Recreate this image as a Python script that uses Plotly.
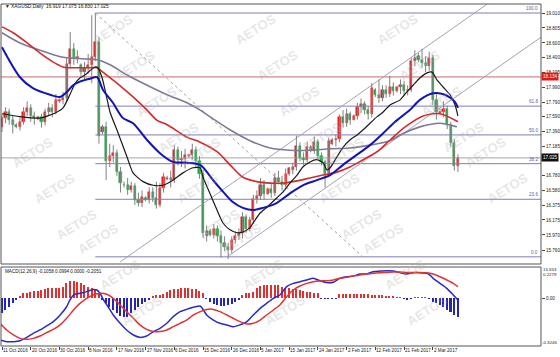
import plotly.graph_objects as go

# ---------------- data ----------------
date_labels = ["11 Oct 2016", "20 Oct 2016", "30 Oct 2016", "8 Nov 2016", "17 Nov 2016",
               "27 Nov 2016", "6 Dec 2016", "15 Dec 2016", "26 Dec 2016", "5 Jan 2017",
               "15 Jan 2017", "24 Jan 2017", "2 Feb 2017", "12 Feb 2017", "21 Feb 2017",
               "2 Mar 2017"]
date_label_bars = [0, 8, 16, 24, 32, 40, 48, 56, 64, 72, 80, 88, 96, 104, 112, 120]

price_ticks = [19.010, 18.805, 18.600, 18.400, 18.195, 17.990, 17.790, 17.590, 17.390,
               17.185, 16.780, 16.580, 16.375, 16.175, 15.970, 15.760]

opens = [17.45, 17.57, 17.65, 17.54, 17.47, 17.45, 17.52, 17.65, 17.71, 17.60,
         17.56, 17.58, 17.52, 17.65, 17.71, 17.65, 17.80, 17.82, 17.85, 18.31,
         18.52, 18.39, 18.30, 18.20, 18.26, 18.30, 18.41, 18.61, 17.38, 17.45,
         16.98, 17.05, 17.09, 16.83, 16.66, 16.65, 16.59, 16.64, 16.45, 16.41,
         16.47, 16.45, 16.56, 16.48, 16.38, 16.61, 16.74, 16.75, 16.72, 17.13,
         16.99, 17.01, 17.05, 17.06, 17.13, 16.98, 16.80, 15.96, 16.02, 15.97,
         16.05, 15.95, 15.86, 15.80, 15.77, 15.90, 15.96, 16.00, 16.22, 16.05,
         16.18, 16.46, 16.50, 16.65, 16.53, 16.60, 16.55, 16.75, 16.70, 16.66,
         16.80, 16.86, 16.90, 17.19, 17.03, 16.99, 17.18, 17.12, 17.24, 17.05,
         16.97, 16.80, 17.22, 17.27, 17.28, 17.58, 17.50, 17.62, 17.55, 17.60,
         17.72, 17.76, 17.68, 17.62, 17.96, 17.88, 17.84, 17.96, 17.90, 18.00,
         17.94, 17.99, 18.03, 17.94, 17.96, 18.35, 18.42, 18.36, 18.33, 18.29,
         18.40, 17.82, 17.64, 17.66, 17.70, 17.47, 17.23, 16.919]
highs = [17.62, 17.72, 17.70, 17.60, 17.50, 17.58, 17.72, 17.80, 17.76, 17.66,
         17.60, 17.63, 17.70, 17.78, 17.76, 17.90, 17.84, 17.93, 18.40, 18.75,
         18.60, 18.50, 18.32, 18.34, 18.45, 18.98, 19.01, 18.68, 17.48, 17.52,
         17.22, 17.20, 17.14, 16.90, 16.70, 16.75, 16.70, 16.68, 16.55, 16.58,
         16.50, 16.62, 16.62, 16.70, 16.68, 16.82, 16.78, 16.85, 17.20, 17.18,
         17.12, 17.15, 17.08, 17.22, 17.18, 17.05, 16.86, 16.10, 16.05, 16.12,
         16.10, 16.03, 15.95, 15.86, 15.95, 16.02, 16.06, 16.28, 16.25, 16.22,
         16.52, 16.58, 16.75, 16.72, 16.62, 16.68, 16.82, 16.85, 16.78, 16.88,
         16.90, 16.96, 17.33, 17.24, 17.10, 17.25, 17.20, 17.32, 17.28, 17.10,
         17.00, 17.30, 17.30, 17.35, 17.62, 17.68, 17.70, 17.66, 17.62, 17.78,
         17.84, 17.80, 17.74, 18.05, 17.98, 18.10, 18.02, 18.02, 18.15, 18.06,
         18.00, 18.10, 18.08, 18.02, 18.40, 18.50, 18.46, 18.52, 18.42, 18.48,
         18.44, 17.90, 17.70, 17.80, 17.74, 17.52, 17.28, 17.075]
lows = [17.38, 17.50, 17.48, 17.36, 17.43, 17.40, 17.48, 17.60, 17.52, 17.48,
        17.54, 17.44, 17.47, 17.60, 17.58, 17.62, 17.78, 17.76, 17.80, 18.25,
        18.30, 18.32, 18.15, 18.08, 18.18, 18.05, 18.35, 17.22, 17.35, 16.72,
        16.90, 16.96, 16.78, 16.55, 16.62, 16.52, 16.55, 16.38, 16.36, 16.35,
        16.43, 16.40, 16.42, 16.33, 16.35, 16.55, 16.72, 16.62, 16.68, 16.92,
        16.90, 16.88, 17.03, 17.00, 16.90, 16.74, 15.93, 15.88, 15.95, 15.92,
        15.88, 15.66, 15.75, 15.64, 15.72, 15.85, 15.90, 15.92, 16.00, 16.02,
        16.12, 16.40, 16.45, 16.45, 16.52, 16.48, 16.50, 16.66, 16.58, 16.62,
        16.78, 16.80, 16.85, 16.98, 16.92, 16.96, 17.10, 17.08, 17.00, 16.92,
        16.62, 16.76, 17.20, 17.18, 17.24, 17.44, 17.45, 17.48, 17.54, 17.55,
        17.64, 17.62, 17.55, 17.58, 17.86, 17.78, 17.80, 17.85, 17.86, 17.88,
        17.92, 17.90, 17.88, 17.88, 17.93, 18.28, 18.34, 18.26, 18.20, 18.22,
        17.75, 17.55, 17.62, 17.58, 17.42, 17.18, 16.85, 16.830]
closes = [17.57, 17.65, 17.54, 17.48, 17.45, 17.52, 17.65, 17.71, 17.60, 17.57,
          17.58, 17.52, 17.65, 17.71, 17.65, 17.82, 17.82, 17.85, 18.31, 18.52,
          18.39, 18.41, 18.20, 18.26, 18.30, 18.41, 18.61, 17.33, 17.45, 16.98,
          17.05, 17.09, 16.83, 16.68, 16.65, 16.59, 16.64, 16.45, 16.41, 16.49,
          16.45, 16.56, 16.48, 16.38, 16.61, 16.76, 16.75, 16.72, 17.13, 16.99,
          17.01, 17.06, 17.06, 17.13, 16.98, 16.80, 15.99, 16.02, 15.97, 16.05,
          15.95, 15.86, 15.80, 15.77, 15.90, 15.96, 16.00, 16.22, 16.05, 16.18,
          16.46, 16.50, 16.65, 16.53, 16.60, 16.55, 16.75, 16.70, 16.66, 16.80,
          16.88, 16.90, 17.19, 17.03, 16.99, 17.18, 17.12, 17.24, 17.05, 16.97,
          16.80, 17.25, 17.27, 17.28, 17.58, 17.50, 17.62, 17.55, 17.60, 17.72,
          17.76, 17.68, 17.62, 17.98, 17.88, 17.84, 17.96, 17.90, 18.00, 17.94,
          17.99, 18.03, 17.94, 17.96, 18.35, 18.40, 18.36, 18.33, 18.29, 18.40,
          17.82, 17.65, 17.66, 17.70, 17.47, 17.23, 16.919, 17.025]

# moving averages (bar position, price)
ma_fast_bars = [0, 5, 10.6, 14.8, 17, 18.9, 20.3, 21.7, 23.1, 24.5, 25.9, 26.7, 27.9, 29, 30.1,
                32, 34.8, 36.5, 39.3, 42.1, 44.8, 47.6, 50.4, 53.2, 55.2, 56, 57.9, 59.9, 61.6,
                63.5, 65.5, 67.1, 69.1, 69.9, 71.9, 73.8, 76.6, 78.3, 80.2, 82.2, 83.8, 85.8,
                87.7, 89.4, 90.5, 91.4, 93.3, 95, 96.9, 98.9, 100.6, 102.5, 104.5, 106.1, 108.1,
                110.9, 112.8, 114.5, 116.4, 118.4, 119.8, 121.2, 122.8, 124.8, 126.2, 127]
ma_fast = [17.63, 17.59, 17.57, 17.64, 17.71, 17.89, 18.04, 18.12, 18.16, 18.22, 18.27, 18.26,
           18.12, 17.89, 17.65, 17.41, 17.04, 16.82, 16.70, 16.65, 16.65, 16.72, 16.82, 16.89,
           16.89, 16.76, 16.54, 16.31, 16.13, 16.04, 16.00, 16.01, 16.07, 16.13, 16.27, 16.35,
           16.48, 16.56, 16.68, 16.79, 16.90, 16.97, 17.00, 16.96, 16.86, 16.89, 17.04, 17.17,
           17.27, 17.34, 17.41, 17.50, 17.59, 17.65, 17.75, 17.82, 17.93, 18.02, 18.12, 18.19,
           18.20, 18.09, 18.00, 17.89, 17.75, 17.60]
ma_mid_bars = [0, 5, 8.6, 13.4, 16.2, 18.1, 19.8, 21.7, 24.5, 26.5, 28.1, 30.9, 33.7, 36.5, 40.4,
               44, 47.6, 51.5, 55.2, 58.8, 61.6, 64.3, 67.1, 69.9, 72.7, 76.6, 80.2, 83.8, 87.7,
               91.4, 95, 98.9, 102.5, 106.1, 109.5, 113.6, 116.4, 120.1, 123.4, 126.2, 127]
ma_mid = [18.54, 18.13, 17.98, 17.89, 17.86, 17.93, 18.02, 18.07, 18.11, 18.13, 17.96, 17.78,
          17.57, 17.50, 17.27, 17.09, 16.97, 16.96, 16.93, 16.72, 16.56, 16.42, 16.34, 16.31,
          16.34, 16.41, 16.54, 16.65, 16.72, 16.79, 16.93, 17.07, 17.20, 17.36, 17.52, 17.68,
          17.82, 17.91, 17.89, 17.79, 17.71]
ma_slow_bars = [0, 3.1, 7, 10.6, 14.2, 17, 18.9, 21.7, 24.5, 26.5, 28.1, 32, 36.5, 40.4, 43.2,
                46, 51.5, 55.2, 59.9, 63.5, 67.1, 71, 74.7, 78.3, 82.2, 85.8, 89.4, 93.3, 96.9,
                100.6, 104.5, 108.1, 112.3, 117.3, 122, 127]
ma_slow = [18.82, 18.74, 18.60, 18.46, 18.34, 18.27, 18.26, 18.26, 18.26, 18.26, 18.20, 18.05,
           17.86, 17.68, 17.54, 17.48, 17.31, 17.24, 17.11, 16.93, 16.76, 16.70, 16.68, 16.68,
           16.71, 16.75, 16.79, 16.83, 16.90, 17.00, 17.11, 17.27, 17.45, 17.60, 17.63, 17.52]
ma_long_bars = [0, 5, 10.6, 16.2, 19.8, 23.7, 26.5, 30.1, 34.8, 40.4, 46, 51.5, 55.2, 57.9, 63.5,
                69.1, 74.7, 80.2, 85.8, 91.4, 96.9, 102.5, 108.1, 110.9, 116.4, 122, 126.7]
ma_long = [18.74, 18.60, 18.50, 18.41, 18.39, 18.38, 18.37, 18.30, 18.16, 18.02, 17.89, 17.78,
           17.68, 17.59, 17.41, 17.26, 17.16, 17.13, 17.13, 17.15, 17.16, 17.20, 17.26, 17.34,
           17.45, 17.50, 17.45]

# drawing objects
fib_high, fib_low = 19.010, 15.670
fib_start_bar, fib_end_bar = 26.0, 100.5
fib_levels = [0.0, 23.6, 38.2, 50.0, 61.8, 100.0]
resistance_level = 18.134
last_price = 17.025
upper_trend_bars, upper_trend_prices = [32.9, 136.8], [15.60, 19.19]
lower_trend_bars, lower_trend_prices = [62.7, 150.2], [15.67, 18.68]

# MACD panel
macd_hist = [-0.104, -0.081, -0.059, -0.036, -0.014, 0.010, 0.032, 0.036, 0.043, 0.047,
             0.050, 0.054, 0.061, 0.065, 0.065, 0.065, 0.070, 0.077, 0.099, 0.117,
             0.117, 0.110, 0.099, 0.088, 0.077, 0.065, 0.054, 0.036, -0.014, -0.036,
             -0.059, -0.081, -0.104, -0.119, -0.126, -0.126, -0.104, -0.081, -0.059, -0.041,
             -0.025, -0.009, 0.011, 0.018, 0.023, 0.029, 0.041, 0.052, 0.059, 0.063,
             0.068, 0.070, 0.068, 0.063, 0.059, 0.050, 0.032, -0.005, -0.027, -0.038,
             -0.050, -0.054, -0.054, -0.050, -0.038, -0.027, -0.011, 0.020, 0.032, 0.036,
             0.043, 0.065, 0.081, 0.088, 0.088, 0.088, 0.088, 0.088, 0.077, 0.065,
             0.065, 0.061, 0.059, 0.054, 0.050, 0.043, 0.038, 0.036, 0.032, -0.004,
             -0.006, -0.006, -0.005, -0.003, 0.025, 0.027, 0.029, 0.029, 0.029, 0.029,
             0.029, 0.027, 0.025, 0.023, 0.023, 0.020, 0.018, 0.016, 0.014, 0.011,
             0.005, 0.002, -0.005, -0.007, -0.005, 0.001, 0.001, 0.001, 0.002, -0.003,
             -0.025, -0.036, -0.048, -0.059, -0.081, -0.093, -0.115, -0.126]
macd_bars = [-0.56, 1.3, 3.2, 5, 6.9, 8.7, 10.6, 12.4, 14.3, 16.2, 18, 18.9, 19.9, 21.7, 23.6,
             25.4, 26.4, 27.3, 28.2, 29.2, 31, 32.9, 34.7, 36.6, 38.4, 40.3, 42.2, 44, 45.9,
             47.7, 49.6, 51.4, 53.3, 55.2, 56.1, 57, 58.9, 60.7, 62.6, 64.4, 66.3, 68.2, 70,
             71.9, 73.7, 75.6, 77.4, 79.3, 81.1, 83, 84.9, 86.7, 88.6, 90.4, 92.3, 94.1, 96,
             97.9, 99.7, 101.6, 103.4, 105.3, 107.2, 109, 110.9, 112.7, 114.6, 116.4, 118.3,
             119.2, 120.1, 122, 123.9, 125.7, 127]
macd_line = [-0.284, -0.295, -0.295, -0.289, -0.266, -0.239, -0.216, -0.189, -0.160, -0.115,
             -0.059, -0.014, 0.020, 0.032, 0.043, 0.058, 0.054, 0.032, -0.009, -0.047,
             -0.115, -0.171, -0.216, -0.250, -0.266, -0.257, -0.227, -0.205, -0.171, -0.126,
             -0.092, -0.077, -0.063, -0.054, -0.081, -0.115, -0.149, -0.171, -0.182, -0.194,
             -0.182, -0.160, -0.115, -0.070, -0.036, -0.002, 0.020, 0.077, 0.099, 0.110,
             0.122, 0.133, 0.117, 0.104, 0.106, 0.133, 0.144, 0.149, 0.162, 0.162,
             0.178, 0.182, 0.185, 0.182, 0.171, 0.162, 0.171, 0.171, 0.167, 0.155,
             0.133, 0.099, 0.065, 0.020, -0.014]
signal_bars = [-0.56, 1.3, 3.2, 5, 6.9, 8.7, 10.6, 12.4, 14.3, 16.2, 18, 19.9, 21.7, 23.6, 25.4,
               27.3, 29.2, 31, 32.9, 34.7, 36.6, 38.4, 40.3, 42.2, 44, 45.9, 47.7, 49.6, 51.4,
               53.3, 55.2, 57, 58.9, 60.7, 62.6, 64.4, 66.3, 68.2, 70, 71.9, 73.7, 75.6, 77.4,
               79.3, 81.1, 83, 84.9, 86.7, 88.6, 90.4, 92.3, 94.1, 96, 97.9, 99.7, 101.6, 103.4,
               105.3, 107.2, 109, 110.9, 112.7, 114.6, 116.4, 118.3, 120.1, 122, 123.9, 125.7, 127]
signal_line = [-0.171, -0.216, -0.250, -0.273, -0.279, -0.273, -0.257, -0.234, -0.212, -0.182,
               -0.137, -0.081, -0.036, -0.002, 0.020, 0.032, 0.025, -0.002, -0.047, -0.092,
               -0.137, -0.182, -0.212, -0.227, -0.227, -0.216, -0.194, -0.171, -0.149, -0.115,
               -0.092, -0.077, -0.077, -0.092, -0.115, -0.137, -0.160, -0.176, -0.171, -0.149,
               -0.115, -0.081, -0.047, 0.009, 0.054, 0.081, 0.099, 0.110, 0.115, 0.117,
               0.122, 0.133, 0.140, 0.149, 0.155, 0.162, 0.167, 0.171, 0.173, 0.176,
               0.176, 0.173, 0.173, 0.173, 0.171, 0.162, 0.144, 0.122, 0.099, 0.077]

header_text = "▼ XAGUSD,Daily  16.919 17.075 16.830 17.025"
macd_header = "MACD(12,26,9) -0.1058 0.0994 0.0000 -0.2051"

# ---------------- layout geometry (pixels) ----------------
W, H = 560, 357
L, R, T, B = 1, 19, 4, 11
PW, PH = W - L - R, H - T - B


def pxx(p):
    return (p - L) / PW


def pxy(p):
    return (H - B - p) / PH


FONT = "Liberation Sans, Arial, sans-serif"
XR = [-0.28, 150.14]
main_dom = [pxy(264), 1.0]
macd_dom = [0.0, pxy(267)]
main_range = [15.5716, 19.1333]
macd_range = [-0.3245, 0.2096]

bars = list(range(len(closes)))
fig = go.Figure()

# fibonacci levels
span = fib_high - fib_low
for lv in fib_levels:
    val = fib_low + span * lv / 100.0
    fig.add_trace(go.Scatter(x=[fib_start_bar, 160], y=[val, val], mode="lines",
                             line=dict(color="#7E7EB8", width=1), hoverinfo="skip",
                             showlegend=False, xaxis="x", yaxis="y"))
# horizontal lines
fig.add_trace(go.Scatter(x=[-5, 160], y=[resistance_level] * 2, mode="lines",
                         line=dict(color="#C86A6A", width=1), showlegend=False))
fig.add_trace(go.Scatter(x=[-5, 160], y=[last_price] * 2, mode="lines",
                         line=dict(color="#A6A6A6", width=1), showlegend=False))
# trend lines
fig.add_trace(go.Scatter(x=upper_trend_bars, y=upper_trend_prices, mode="lines",
                         line=dict(color="#A2A2B6", width=1), showlegend=False))
fig.add_trace(go.Scatter(x=lower_trend_bars, y=lower_trend_prices, mode="lines",
                         line=dict(color="#A2A2B6", width=1), showlegend=False))
fig.add_trace(go.Scatter(x=[fib_start_bar, fib_end_bar], y=[fib_high, fib_low], mode="lines",
                         line=dict(color="#B89A9A", width=1, dash="dot"), showlegend=False))

# candles: wicks + bodies
wx, wy = [], []
for i in bars:
    wx += [i, i, None]
    wy += [lows[i], highs[i], None]
fig.add_trace(go.Scatter(x=wx, y=wy, mode="lines", line=dict(color="#808080", width=1),
                         showlegend=False, hoverinfo="skip"))
body_colors = ["#E02424" if c >= o else "#22A845" for o, c in zip(opens, closes)]
fig.add_trace(go.Bar(x=bars, y=[c - o for o, c in zip(opens, closes)], base=opens,
                     width=0.62, marker=dict(color=body_colors, line=dict(color=body_colors, width=0.5)),
                     showlegend=False, xaxis="x", yaxis="y"))

# moving averages
fig.add_trace(go.Scatter(x=ma_long_bars, y=ma_long, mode="lines",
                         line=dict(color="#7E7A96", width=1.6, shape="spline", smoothing=0.8),
                         showlegend=False))
fig.add_trace(go.Scatter(x=ma_slow_bars, y=ma_slow, mode="lines",
                         line=dict(color="#D42A2A", width=1.6, shape="spline", smoothing=0.8),
                         showlegend=False))
fig.add_trace(go.Scatter(x=ma_fast_bars, y=ma_fast, mode="lines",
                         line=dict(color="#1A1A1A", width=1.2, shape="spline", smoothing=0.6),
                         showlegend=False))
fig.add_trace(go.Scatter(x=ma_mid_bars, y=ma_mid, mode="lines",
                         line=dict(color="#1414B4", width=2, shape="spline", smoothing=0.8),
                         showlegend=False))

# MACD
hist_colors = ["#E03030" if v >= 0 else "#2424B8" for v in macd_hist]
fig.add_trace(go.Bar(x=bars, y=macd_hist, width=0.42, marker=dict(color=hist_colors, line=dict(width=0)),
                     showlegend=False, xaxis="x", yaxis="y2"))
fig.add_trace(go.Scatter(x=macd_bars, y=macd_line, mode="lines", xaxis="x", yaxis="y2",
                         line=dict(color="#2A2AC8", width=1.5, shape="spline", smoothing=0.6),
                         showlegend=False))
fig.add_trace(go.Scatter(x=signal_bars, y=signal_line, mode="lines", xaxis="x", yaxis="y2",
                         line=dict(color="#E03434", width=1.5, shape="spline", smoothing=0.6),
                         showlegend=False))

annotations = []
# watermarks
for n in range(-12, 12):
    for m in range(-3, 4):
        wxp = 255 + 22 * n + 168 * m
        wyp = 8 + 36 * n
        if 5 <= wxp <= 535 and -5 <= wyp <= 350:
            annotations.append(dict(x=pxx(wxp), y=pxy(wyp), xref="paper", yref="paper",
                                    text="<b>AETOS</b>", showarrow=False, textangle=-32,
                                    font=dict(family=FONT, size=13, color="rgba(170,170,170,0.30)")))
# date labels
for b, lab in zip(date_label_bars, date_labels):
    annotations.append(dict(x=b, y=pxy(350.5), xref="x", yref="paper", text=lab, showarrow=False,
                            xanchor="left", yanchor="middle", xshift=-1,
                            font=dict(family=FONT, size=4.6, color="#222")))
# fib labels
for lv in fib_levels:
    val = fib_low + span * lv / 100.0
    annotations.append(dict(x=pxx(540), y=val, xref="paper", yref="y", text=f"{lv:.1f}",
                            showarrow=False, xanchor="right", yanchor="bottom",
                            font=dict(family=FONT, size=4.6, color="#5A5AB0")))
# price boxes
annotations.append(dict(x=1.0, y=resistance_level, xref="paper", yref="y", text="18.134",
                        showarrow=False, xanchor="left", yanchor="middle", bgcolor="#E01818",
                        borderpad=1, font=dict(family=FONT, size=4.6, color="white")))
annotations.append(dict(x=1.0, y=last_price, xref="paper", yref="y", text="17.025",
                        showarrow=False, xanchor="left", yanchor="middle", bgcolor="#111111",
                        borderpad=1, font=dict(family=FONT, size=4.6, color="white")))
# extra scale labels
for txt, ypix in [("15.553", 269), ("0.2279", 274.5), ("-0.3246", 342)]:
    annotations.append(dict(x=pxx(559), y=pxy(ypix), xref="paper", yref="paper", text=txt,
                            showarrow=False, xanchor="right", yanchor="middle",
                            font=dict(family=FONT, size=4.4, color="#222")))
# headers
annotations.append(dict(x=pxx(3), y=pxy(6), xref="paper", yref="paper", text=header_text,
                        showarrow=False, xanchor="left", yanchor="middle",
                        font=dict(family=FONT, size=4.8, color="#111")))
annotations.append(dict(x=pxx(3), y=pxy(271), xref="paper", yref="paper", text=macd_header,
                        showarrow=False, xanchor="left", yanchor="middle",
                        font=dict(family=FONT, size=4.6, color="#111")))

shapes = [
    dict(type="rect", xref="paper", yref="paper", x0=0, x1=1, y0=main_dom[0], y1=main_dom[1],
         line=dict(color="#555", width=1)),
    dict(type="rect", xref="paper", yref="paper", x0=0, x1=1, y0=macd_dom[0], y1=macd_dom[1],
         line=dict(color="#555", width=1)),
]

fig.update_layout(
    width=W, height=H,
    margin=dict(l=L, r=R, t=T, b=B),
    paper_bgcolor="white", plot_bgcolor="white",
    barmode="overlay", bargap=0,
    showlegend=False,
    font=dict(family=FONT, size=5, color="#222"),
    xaxis=dict(range=XR, anchor="y2", showgrid=False, zeroline=False, showline=False,
               tickmode="array", tickvals=date_label_bars, ticks="outside", ticklen=3,
               tickcolor="#444", showticklabels=False, fixedrange=True,
               rangeslider=dict(visible=False)),
    yaxis=dict(domain=main_dom, range=main_range, side="right", anchor="x", showgrid=False,
               zeroline=False, showline=False, tickmode="array", tickvals=price_ticks,
               ticktext=[f"{v:.3f}" for v in price_ticks], ticks="outside", ticklen=3,
               tickcolor="#444", tickfont=dict(family=FONT, size=4.6, color="#222")),
    yaxis2=dict(domain=macd_dom, range=macd_range, side="right", anchor="x", showgrid=False,
                zeroline=False, showline=False, tickmode="array", tickvals=[0],
                ticktext=["0.00"], ticks="outside", ticklen=3, tickcolor="#444",
                tickfont=dict(family=FONT, size=4.6, color="#222")),
    annotations=annotations,
    shapes=shapes,
)

fig.write_html("out.html")
